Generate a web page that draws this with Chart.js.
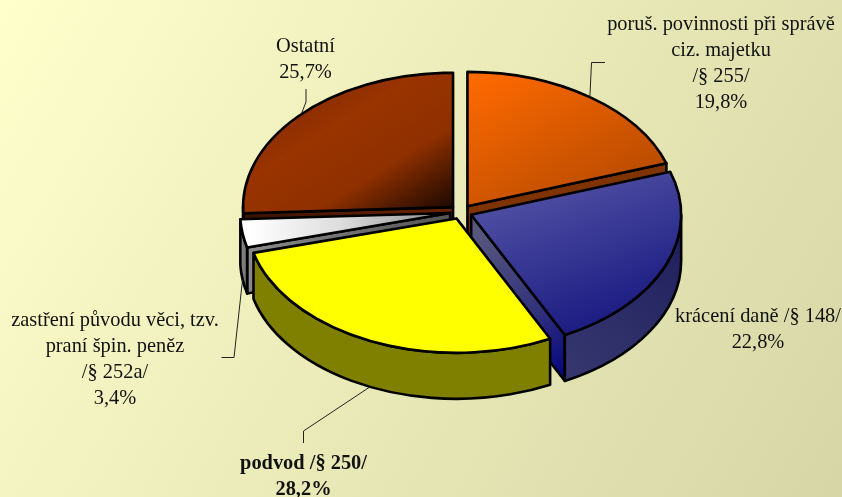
<!DOCTYPE html>
<html>
<head>
<meta charset="utf-8">
<style>
  html, body { margin: 0; padding: 0; background: #eaeab9; }
  canvas { display: block; }
</style>
<script src="https://cdn.jsdelivr.net/npm/chart.js@4"></script>
</head>
<body>
<canvas id="myChart" width="842" height="497"></canvas>
<script>
const categories = ['poruš. povinnosti při správě ciz. majetku /§ 255/', 'krácení daně /§ 148/', 'podvod /§ 250/', 'zastření původu věci, tzv. praní špin. peněz /§ 252a/', 'Ostatní'];
const values = [19.8, 22.8, 28.2, 3.4, 25.7];
const labelLines = [
  ['poruš. povinnosti při správě', 'ciz. majetku', '/§ 255/'],
  ['krácení daně /§ 148/'],
  ['podvod /§ 250/'],
  ['zastření původu věci, tzv.', 'praní špin. peněz', '/§ 252a/'],
  ['Ostatní']
];

// pie geometry
const CX = 461, CY = 212, RADIUS = 210, SQUASH = 0.64, DEPTH = 46, OFFSET = 11;
const EDGE = 2.6;

// label placement: centre x, first line y
const labelPos = [[721, 24.5], [758, 316.5], [303.5, 463.5], [115, 320.5], [305.5, 46.5]];
const LINE_H = 26;
// leader lines: points from the label down to the slice (null = no leader)
const leaders = [[[605, 62.5], [591.5, 62.5]], null, [[303.5, 443], [303.5, 431]], [[221.5, 357.5], [234, 357.5]], [[306, 89], [306, 102]]];

const ctx = document.getElementById('myChart').getContext('2d');

// gradient given in screen coordinates, for faces drawn inside the squashed frame
function topGrad(x0, y0, x1, y1, stops) {
  const sy = y => CY + (y - CY) / SQUASH;
  const g = ctx.createLinearGradient(x0, sy(y0), x1, sy(y1));
  stops.forEach(s => g.addColorStop(s[0], s[1]));
  return g;
}
function sideGrad(x0, y0, x1, y1, stops) {
  const g = ctx.createLinearGradient(x0, y0, x1, y1);
  stops.forEach(s => g.addColorStop(s[0], s[1]));
  return g;
}

const topColors = [
  topGrad(470, 75, 640, 205, [[0, '#ff6a00'], [1, '#b04800']]),
  topGrad(480, 180, 610, 325, [[0, '#5858a8'], [1, '#1a1a82']]),
  '#ffff00',
  topGrad(250, 225, 430, 225, [[0, '#ffffff'], [0.5, '#dddddd'], [1, '#999999']]),
  topGrad(290, 100, 455, 208, [[0, '#862b00'], [0.25, '#993300'], [0.6, '#8f3000'], [0.83, '#4a1800'], [1, '#1a0800']])
];
const outerColors = [
  '#7f3300',
  sideGrad(560, 380, 685, 240, [[0, '#383870'], [1, '#20205e']]),
  '#808000',
  sideGrad(241, 250, 252, 250, [[0, '#888888'], [1, '#555555']]),
  '#5a1e00'
];
const wallColors = [
  '#7f3300',
  sideGrad(475, 230, 560, 370, [[0, '#58587e'], [0.6, '#33337c'], [1, '#0a0a80']]),
  '#808000',
  sideGrad(250, 250, 450, 220, [[0, '#8a8a8a'], [1, '#555555']]),
  sideGrad(245, 220, 450, 220, [[0, '#3a1200'], [1, '#6b2300']])
];

// slice position on screen (el.x/el.y live in the round, unsquashed frame)
function arcInfo(el) {
  return {
    x: el.x,
    y: CY + (el.y - CY) * SQUASH,
    r: el.outerRadius, a0: el.startAngle, a1: el.endAngle, mid: (el.startAngle + el.endAngle) / 2
  };
}
function pt(a, ang, drop) {
  return [a.x + a.r * Math.cos(ang), a.y + a.r * SQUASH * Math.sin(ang) + (drop || 0)];
}

function drawWall(c, a, ang, color) {
  const e = pt(a, ang);
  c.beginPath();
  c.moveTo(a.x, a.y);
  c.lineTo(e[0], e[1]);
  c.lineTo(e[0], e[1] + DEPTH);
  c.lineTo(a.x, a.y + DEPTH);
  c.closePath();
  c.fillStyle = color;
  c.fill();
  c.stroke();
}

function drawOuter(c, a, color) {
  const from = Math.max(a.a0, 0), to = Math.min(a.a1, Math.PI);
  if (to <= from) return;
  c.beginPath();
  c.ellipse(a.x, a.y, a.r, a.r * SQUASH, 0, from, to);
  c.ellipse(a.x, a.y + DEPTH, a.r, a.r * SQUASH, 0, to, from, true);
  c.closePath();
  c.fillStyle = color;
  c.fill();
  c.stroke();
}

const pie3d = {
  id: 'pie3d',
  // explode the slices: the library's own offset also grows thin slices
  afterDatasetUpdate(chart) {
    chart.getDatasetMeta(0).data.forEach(el => {
      const mid = (el.startAngle + el.endAngle) / 2;
      el.x = CX + Math.cos(mid) * OFFSET;
      el.y = CY + Math.sin(mid) * OFFSET;
    });
  },
  // sides first, back slices before front ones
  beforeDatasetsDraw(chart) {
    const c = chart.ctx, arcs = chart.getDatasetMeta(0).data;
    c.save();
    c.strokeStyle = '#000';
    c.lineWidth = EDGE;
    c.lineJoin = 'round';
    [4, 0, 3, 1, 2].forEach(i => {
      const a = arcInfo(arcs[i]);
      // only radial walls that face the viewer
      if (Math.cos(a.a1) > 0.001) drawWall(c, a, a.a1, wallColors[i]);
      if (Math.cos(a.a0) < -0.001) drawWall(c, a, a.a0, wallColors[i]);
      drawOuter(c, a, outerColors[i]);
    });
    c.restore();
  },
  // squash the round pie into an ellipse while the library draws it
  beforeDatasetDraw(chart) {
    const c = chart.ctx;
    c.save();
    c.translate(CX, CY);
    c.scale(1, SQUASH);
    c.translate(-CX, -CY);
  },
  afterDatasetDraw(chart) {
    const c = chart.ctx;
    c.restore();
    c.save();
    c.strokeStyle = '#000';
    c.lineWidth = EDGE;
    c.lineJoin = 'round';
    chart.getDatasetMeta(0).data.forEach(el => {
      const a = arcInfo(el);
      c.beginPath();
      c.moveTo(a.x, a.y);
      c.ellipse(a.x, a.y, a.r, a.r * SQUASH, 0, a.a0, a.a1);
      c.closePath();
      c.stroke();
    });
    c.restore();
  },
  afterDraw(chart) {
    const c = chart.ctx, arcs = chart.getDatasetMeta(0).data;
    c.save();
    // leader lines end on the middle of each slice's rim
    c.strokeStyle = '#222';
    c.lineWidth = 1;
    arcs.forEach((el, i) => {
      if (!leaders[i]) return;
      const a = arcInfo(el);
      const end = pt(a, a.mid, Math.sin(a.mid) > 0 ? DEPTH : 0);
      c.beginPath();
      leaders[i].forEach((p, k) => k ? c.lineTo(p[0], p[1]) : c.moveTo(p[0], p[1]));
      c.lineTo(end[0], end[1]);
      c.stroke();
    });
    // labels
    c.fillStyle = '#111';
    c.textAlign = 'center';
    c.textBaseline = 'middle';
    labelLines.forEach((lines, i) => {
      c.font = (i === 2 ? 'bold ' : '') + '20.4px "Liberation Serif"';
      const pct = String(values[i]).replace('.', ',') + '%';
      lines.concat(pct).forEach((t, k) => c.fillText(t, labelPos[i][0], labelPos[i][1] + k * LINE_H));
    });
    c.restore();
  }
};

// page background
const background = {
  id: 'background',
  beforeDraw(chart) {
    const c = chart.ctx;
    const g = c.createLinearGradient(0, 0, 842, 497);
    g.addColorStop(0, '#ffffcc');
    g.addColorStop(1, '#d6d6a6');
    c.fillStyle = g;
    c.fillRect(0, 0, 842, 497);
  }
};

new Chart(ctx, {
  type: 'pie',
  data: {
    labels: categories,
    datasets: [{
      data: values,
      backgroundColor: topColors,
      borderWidth: 0,
      clip: false
    }]
  },
  options: {
    responsive: false,
    animation: false,
    radius: RADIUS,
    layout: { padding: { left: 80, right: 0, top: 0, bottom: 73 } },
    plugins: { legend: { display: false }, tooltip: { enabled: false } }
  },
  plugins: [background, pie3d]
});
</script>
</body>
</html>
